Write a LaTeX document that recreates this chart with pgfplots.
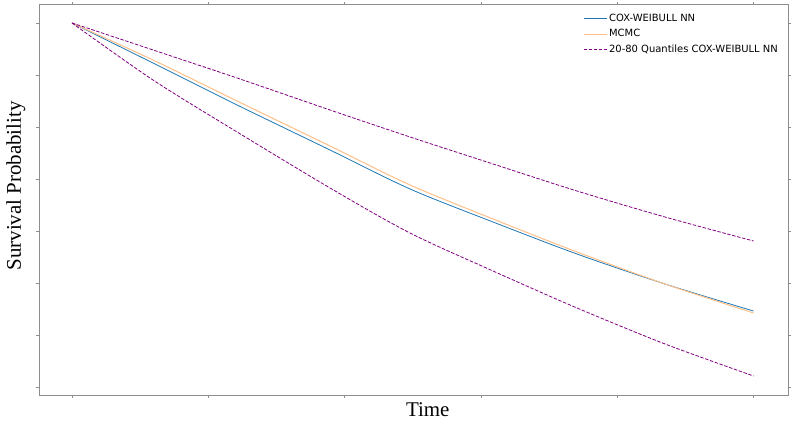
\documentclass[border=0pt]{standalone}
\usepackage{fontspec}
\setmainfont{Liberation Serif}
\newfontfamily\legfont{DejaVu Sans}
\usepackage{pgfplots}
\pgfplotsset{compat=1.18}
\definecolor{mplblue}{HTML}{1F77B4}
\definecolor{mcmcorange}{HTML}{FFBF87}
\definecolor{qpurple}{HTML}{800080}
\definecolor{axgray}{HTML}{8C8C8C}

\begin{document}
\begin{tikzpicture}
\begin{axis}[
    scale only axis,
    width=749bp, height=390bp,
    xmin=-0.242, xmax=5.253,
    ymin=0.286, ymax=1.0345,
    xtick={0,1,2,3,4,5},
    ytick={0.3,0.4,0.5,0.6,0.7,0.8,0.9,1.0},
    xticklabels={}, yticklabels={},
    tick align=outside,
    major tick length=3bp,
    tick style={axgray, line width=0.6bp},
    axis line style={axgray, line width=1bp},
    xlabel={Time},
    ylabel={Survival Probability},
    label style={font=\fontsize{21}{24}\selectfont},
    xlabel style={at={(axis description cs:0.519,-0.038)}, anchor=center},
    ylabel style={at={(axis description cs:-0.031,0.536)}, anchor=center},
    legend cell align=left,
    legend image code/.code={\draw[#1] (0bp,0bp) -- (23bp,0bp);},
    legend style={
        at={(axis description cs:1,1)}, anchor=north east,
        xshift=-6bp, yshift=-5bp,
        draw=none, fill=white,
        font=\legfont\fontsize{10}{12}\selectfont,
        row sep=2.5bp, inner sep=2bp,
        nodes={inner sep=2bp}},
]
% COX-WEIBULL NN
\addplot[mplblue, line width=0.8bp, smooth] coordinates {
    (0,1) (0.594,0.9232) (1.211,0.8426) (1.893,0.7562) (2.480,0.6814)
    (3.089,0.6180) (3.705,0.5566) (4.351,0.4990) (5,0.4472)};
% MCMC
\addplot[mcmcorange, line width=1bp, smooth] coordinates {
    (0,1) (0.594,0.9290) (1.211,0.8503) (1.893,0.7639) (2.480,0.6891)
    (3.089,0.6238) (3.705,0.5605) (4.351,0.4990) (5,0.4434)};
% 80 % quantile
\addplot[qpurple, line width=0.8bp, dash pattern=on 3.5bp off 1.6bp, smooth] coordinates {
    (0,1) (0.594,0.9482) (1.211,0.8944) (1.893,0.8330) (2.480,0.7812)
    (3.089,0.7294) (3.705,0.6775) (4.351,0.6276) (5,0.5816)};
% 20 % quantile
\addplot[qpurple, line width=0.8bp, dash pattern=on 3.5bp off 1.6bp, smooth, forget plot] coordinates {
    (0,1) (0.594,0.8906) (1.211,0.7908) (1.893,0.6833) (2.480,0.5969)
    (3.089,0.5240) (3.705,0.4530) (4.351,0.3839) (5,0.3225)};
\legend{COX-WEIBULL NN, MCMC, 20-80 Quantiles COX-WEIBULL NN}
\end{axis}
\path (current axis.south west) ++(-39bp,-30bp);
\path (current axis.north east) ++(7bp,5bp);
\end{tikzpicture}
\end{document}
